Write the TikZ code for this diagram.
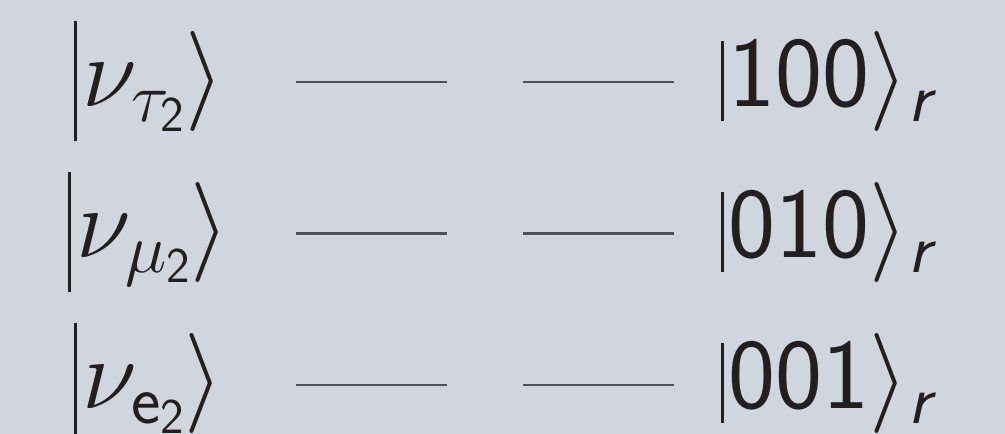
\RequirePackage{fix-cm}
\documentclass[tikz,border=0pt]{standalone}
\usepackage{amsmath}
\definecolor{bg}{HTML}{D0D5DE}
\definecolor{ink}{HTML}{231F20}
\definecolor{ln}{HTML}{505055}
\newcommand\ssf[1]{\text{\sffamily #1}}
\newcommand\lbar{\rule[-0.35em]{0.028em}{1.2em}\hspace{0.06em}}
\newcommand\rbar{\rule[-0.15em]{0.028em}{0.8em}\hspace{0.05em}}
\begin{document}
\begin{tikzpicture}[x=1pt,y=-1pt,
  ket/.style={inner sep=0pt, outer sep=0pt, text=ink, anchor=base west,
              font=\fontsize{100}{120}\selectfont},
  level/.style={draw=ln, line width=2.4pt}]
\fill[bg] (0,0) rectangle (1005,434);
\useasboundingbox (0,0) rectangle (1005,434);
% left kets
\node[ket] (l1) at (74,106) {\lbar$\nu_{\tau_{\ssf{2}}}\rangle$};
\node[ket] (l2) at (68,257) {\lbar$\nu_{\mu_{\ssf{2}}}\rangle$};
\node[ket] (l3) at (74,408) {\lbar$\nu_{\ssf{e}_{\ssf{2}}}\rangle$};
% right kets
\node[ket] (r1) at (721,106) {\rbar\sffamily 100$\rangle_{\ssf{\itshape r}}$};
\node[ket] (r2) at (721,257) {\rbar\sffamily 010$\rangle_{\ssf{\itshape r}}$};
\node[ket] (r3) at (721,408) {\rbar\sffamily 001$\rangle_{\ssf{\itshape r}}$};
% levels
\foreach \i/\y in {1/82,2/233.5,3/385}{
  \coordinate (a\i) at (296,\y);
  \coordinate (b\i) at (447,\y);
  \coordinate (c\i) at (523,\y);
  \coordinate (d\i) at (674,\y);
  \draw[level] (a\i) -- (b\i);
  \draw[level] (c\i) -- (d\i);
}
\end{tikzpicture}
\end{document}
